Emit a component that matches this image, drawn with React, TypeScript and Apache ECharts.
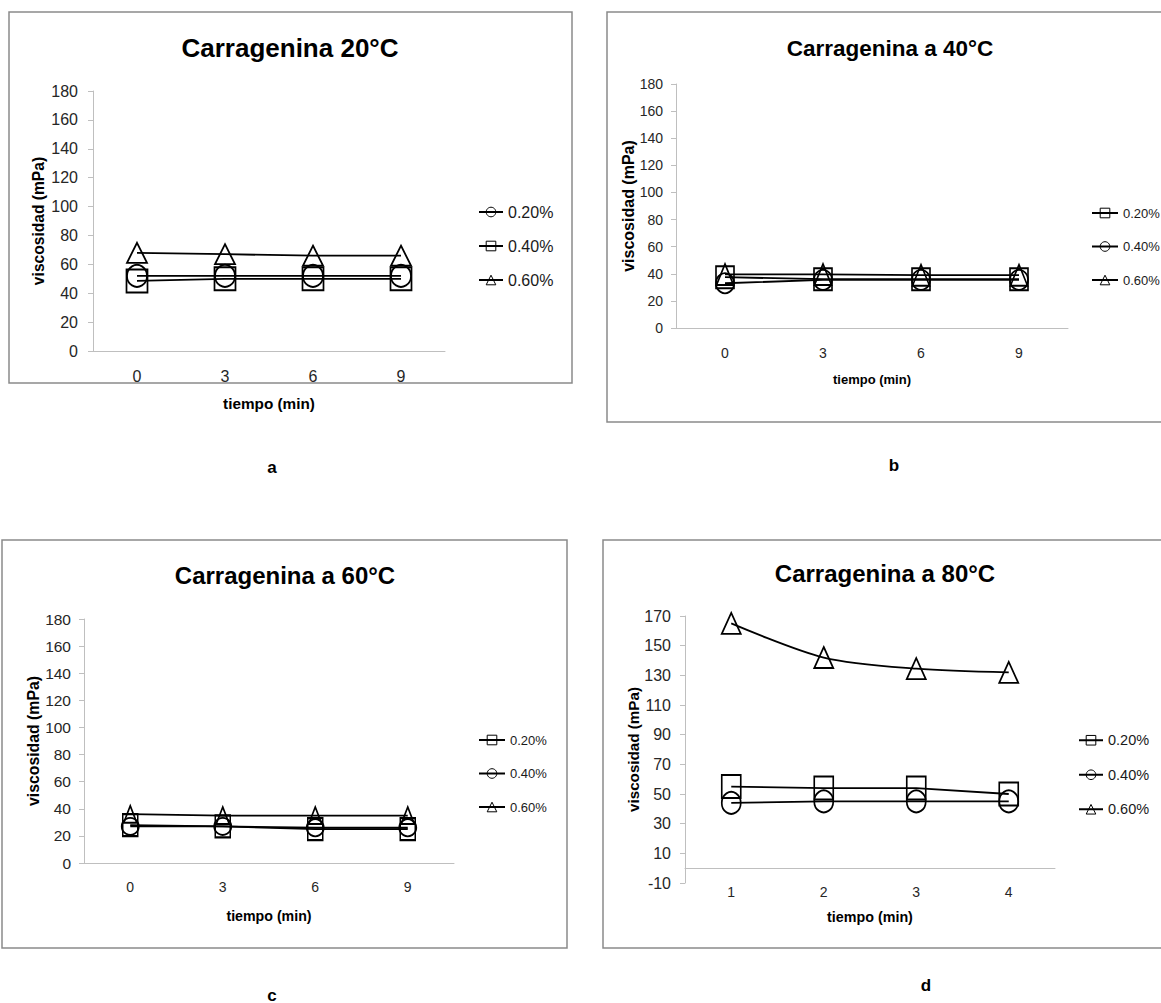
import React, { useEffect, useRef } from "react";
import * as echarts from "echarts";

// ---------- data ----------
const TIME_ABC = ["0", "3", "6", "9"];
const TIME_D = ["1", "2", "3", "4"];

const A_020 = [52, 52, 52, 52];
const A_040 = [48.5, 50, 50, 50];
const A_060 = [68, 67, 66, 66];

const B_020 = [37.5, 36, 36, 36];
const B_040 = [33, 35.5, 35.5, 35.5];
const B_060 = [39.5, 39.5, 39, 39];

const C_020 = [28, 27, 25, 25];
const C_040 = [27, 27, 26, 26];
const C_060 = [36, 35, 35, 35];

const D_020 = [55, 54, 54, 50];
const D_040 = [44, 45, 45, 45];
const D_060 = [165, 142, 134.5, 132];

const Y_ABC = { min: 0, max: 180, interval: 20 };
const Y_D = { min: -10, max: 170, interval: 20 };

const TITLE_A = "Carragenina 20°C";
const TITLE_B = "Carragenina a 40°C";
const TITLE_C = "Carragenina a 60°C";
const TITLE_D = "Carragenina a 80°C";
const X_NAME = "tiempo (min)";
const Y_NAME = "viscosidad (mPa)";

// ---------- styles ----------
const SANS = "'Liberation Sans', Arial, sans-serif";
const AXIS_GRAY = "#bfbfbf";
const BORDER_GRAY = "#8a8a8a";
const TICK_COLOR = "#262626";

type Mark = { name: string; data: number[]; symbol: string; size: [number, number]; smooth?: number };
type Panel = {
  box: { left: number; top: number; width: number; height: number };
  border: [number, number, number, number];
  title: string; titleX: number; titleY: number; titleSize: number;
  label: string; labelX: number; labelY: number;
  grid: { left: number; top: number; width: number; height: number };
  cats: string[]; y: { min: number; max: number; interval: number };
  yTickFont: number; xTickFont: number; yLabelMargin: number; xLabelMargin: number;
  xNameFont: number; xNameGap: number; yNameFont: number; yNameGap: number;
  legendLeft: number; legendTop: number; legendFont: number; legendItemWidth: number; legendGap: number;
  marks: Mark[];
};

const PANELS: Panel[] = [
  {
    box: { left: 0, top: 0, width: 580, height: 500 },
    border: [9, 12, 563, 371],
    title: TITLE_A, titleX: 290, titleY: 48, titleSize: 26,
    label: "a", labelX: 272, labelY: 467,
    grid: { left: 93, top: 91, width: 352, height: 260 },
    cats: TIME_ABC, y: Y_ABC,
    yTickFont: 16, xTickFont: 16, yLabelMargin: 15, xLabelMargin: 17,
    xNameFont: 15.3, xNameGap: 45, yNameFont: 15.6, yNameGap: 47,
    legendLeft: 478, legendTop: 204, legendFont: 16, legendItemWidth: 24, legendGap: 18,
    marks: [
      { name: "0.20%", data: A_020, symbol: "circle", size: [20, 22] },
      { name: "0.40%", data: A_040, symbol: "rect", size: [21, 23] },
      { name: "0.60%", data: A_060, symbol: "triangle", size: [20, 20] },
    ],
  },
  {
    box: { left: 600, top: 0, width: 561, height: 500 },
    border: [7, 12, 560, 410],
    title: TITLE_B, titleX: 290, titleY: 48, titleSize: 22.5,
    label: "b", labelX: 294, labelY: 465,
    grid: { left: 76, top: 84, width: 392, height: 244 },
    cats: TIME_ABC, y: Y_ABC,
    yTickFont: 14, xTickFont: 14, yLabelMargin: 13, xLabelMargin: 18,
    xNameFont: 13, xNameGap: 45, yNameFont: 16, yNameGap: 40,
    legendLeft: 491, legendTop: 206.5, legendFont: 13, legendItemWidth: 26, legendGap: 20.5,
    marks: [
      { name: "0.20%", data: B_020, symbol: "rect", size: [18, 22] },
      { name: "0.40%", data: B_040, symbol: "circle", size: [18, 20] },
      { name: "0.60%", data: B_060, symbol: "triangle", size: [17, 21] },
    ],
  },
  {
    box: { left: 0, top: 520, width: 580, height: 483 },
    border: [2, 20, 565, 408],
    title: TITLE_C, titleX: 285, titleY: 55, titleSize: 24,
    label: "c", labelX: 272, labelY: 475,
    grid: { left: 84, top: 99, width: 370, height: 244 },
    cats: TIME_ABC, y: Y_ABC,
    yTickFont: 15.5, xTickFont: 14, yLabelMargin: 13, xLabelMargin: 17,
    xNameFont: 14.2, xNameGap: 46, yNameFont: 15.8, yNameGap: 43,
    legendLeft: 478, legendTop: 213.5, legendFont: 13, legendItemWidth: 26, legendGap: 20.5,
    marks: [
      { name: "0.20%", data: C_020, symbol: "rect", size: [15, 22] },
      { name: "0.40%", data: C_040, symbol: "circle", size: [17, 17] },
      { name: "0.60%", data: C_060, symbol: "triangle", size: [13, 17] },
    ],
  },
  {
    box: { left: 600, top: 520, width: 561, height: 483 },
    border: [3, 20, 560, 408],
    title: TITLE_D, titleX: 285, titleY: 53, titleSize: 24,
    label: "d", labelX: 326, labelY: 465,
    grid: { left: 85, top: 96, width: 370, height: 267 },
    cats: TIME_D, y: Y_D,
    yTickFont: 16, xTickFont: 14, yLabelMargin: 14, xLabelMargin: 2,
    xNameFont: 14.3, xNameGap: 27, yNameFont: 15.2, yNameGap: 44,
    legendLeft: 478, legendTop: 212.75, legendFont: 14.5, legendItemWidth: 24, legendGap: 19.5,
    marks: [
      { name: "0.20%", data: D_020, symbol: "rect", size: [19, 23] },
      { name: "0.40%", data: D_040, symbol: "circle", size: [19, 22] },
      { name: "0.60%", data: D_060, symbol: "triangle", size: [19, 21], smooth: 0.3 },
    ],
  },
];

function buildOption(p: Panel): any {
  return {
    animation: false,
    graphic: [
      {
        type: "rect",
        silent: true,
        z: -1,
        shape: { x: p.border[0], y: p.border[1], width: p.border[2], height: p.border[3] },
        style: { fill: "#fff", stroke: BORDER_GRAY, lineWidth: 1.5 },
      },
      {
        type: "text",
        x: p.titleX,
        y: p.titleY,
        style: {
          text: p.title,
          fill: "#000",
          font: `bold ${p.titleSize}px ${SANS}`,
          align: "center",
          verticalAlign: "middle",
          textAlign: "center",
          textVerticalAlign: "middle",
        },
      },
      {
        type: "text",
        x: p.labelX,
        y: p.labelY,
        style: {
          text: p.label,
          fill: "#000",
          font: `bold 17px ${SANS}`,
          align: "center",
          verticalAlign: "middle",
          textAlign: "center",
          textVerticalAlign: "middle",
        },
      },
    ],
    grid: { ...p.grid, containLabel: false },
    legend: {
      orient: "vertical",
      left: p.legendLeft,
      top: p.legendTop,
      padding: 0,
      itemWidth: p.legendItemWidth,
      itemHeight: 12,
      itemGap: p.legendGap,
      selectedMode: false,
      data: p.marks.map((m) => m.name),
      textStyle: { fontFamily: SANS, fontSize: p.legendFont, color: "#1a1a1a" },
      itemStyle: { color: "transparent", borderColor: "#000", borderWidth: 1 },
      lineStyle: { color: "#000", width: 2 },
    },
    xAxis: {
      type: "category",
      data: p.cats,
      boundaryGap: true,
      axisLine: { show: true, lineStyle: { color: AXIS_GRAY, width: 1 } },
      axisTick: { show: false },
      splitLine: { show: false },
      axisLabel: { margin: p.xLabelMargin, fontSize: p.xTickFont, fontFamily: SANS, color: TICK_COLOR },
      name: X_NAME,
      nameLocation: "middle",
      nameGap: p.xNameGap,
      nameMoveOverlap: false,
      nameTextStyle: { fontFamily: SANS, fontWeight: "bold", fontSize: p.xNameFont, color: "#000" },
    },
    yAxis: {
      type: "value",
      min: p.y.min,
      max: p.y.max,
      interval: p.y.interval,
      axisLine: { show: true, lineStyle: { color: AXIS_GRAY, width: 1 } },
      axisTick: { show: true, length: 5, lineStyle: { color: AXIS_GRAY } },
      splitLine: { show: false },
      axisLabel: { margin: p.yLabelMargin, fontSize: p.yTickFont, fontFamily: SANS, color: TICK_COLOR },
      name: Y_NAME,
      nameLocation: "middle",
      nameGap: p.yNameGap,
      nameMoveOverlap: false,
      nameTextStyle: { fontFamily: SANS, fontWeight: "bold", fontSize: p.yNameFont, color: "#000" },
    },
    series: p.marks.map((m) => ({
      type: "line",
      name: m.name,
      data: m.data,
      symbol: m.symbol,
      symbolSize: m.size,
      smooth: m.smooth ?? false,
      showAllSymbol: true,
      lineStyle: { color: "#000", width: 1.8 },
      itemStyle: { color: "transparent", borderColor: "#000", borderWidth: 1.8 },
      emphasis: { disabled: true },
    })),
  };
}

function ChartPanel({ panel }: { panel: Panel }) {
  const ref = useRef<HTMLDivElement>(null);
  useEffect(() => {
    if (!ref.current) return;
    const chart = echarts.init(ref.current, undefined, { renderer: "svg" });
    chart.setOption(buildOption(panel));
    return () => chart.dispose();
  }, [panel]);
  return (
    <div
      ref={ref}
      style={{
        position: "absolute",
        left: panel.box.left,
        top: panel.box.top,
        width: panel.box.width,
        height: panel.box.height,
      }}
    />
  );
}

export default function App() {
  return (
    <div
      style={{
        position: "absolute",
        left: 0,
        top: 0,
        width: 1161,
        height: 1003,
        background: "#fff",
        overflow: "hidden",
      }}
    >
      {PANELS.map((p, i) => (
        <ChartPanel key={i} panel={p} />
      ))}
    </div>
  );
}
